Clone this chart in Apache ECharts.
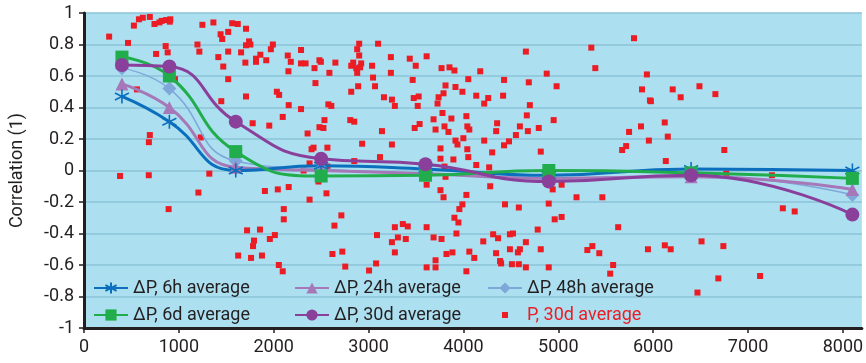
<!DOCTYPE html>
<html>
<head>
<meta charset="utf-8">
<script src="https://cdn.jsdelivr.net/npm/echarts@6/dist/echarts.min.js"></script>
<style>
  html, body { margin: 0; padding: 0; background: #fff; }
  #chart { width: 866px; height: 363px; }
</style>
</head>
<body>
<div id="chart"></div>
<script>
// distances where the averages were computed
var distances = [400, 900, 1600, 2500, 3600, 4900, 6400, 8100];

var dp6h  = [0.47, 0.31, 0.0, 0.03, 0.01, -0.03, 0.01, 0.0];
var dp24h = [0.55, 0.40, 0.02, 0.0, -0.02, -0.05, -0.04, -0.12];
var dp48h = [0.65, 0.52, 0.06, 0.01, -0.02, -0.05, -0.03, -0.155];
var dp6d  = [0.72, 0.60, 0.12, -0.035, -0.03, 0.0, -0.015, -0.05];
var dp30d = [0.67, 0.66, 0.31, 0.075, 0.04, -0.07, -0.03, -0.28];

// P, 30d average scatter
var p30dX = [
  265, 526, 579, 620, 694, 743, 795, 819, 865, 910, 905, 464, 760, 861, 882, 558, 959, 694, 684, 380,
  683, 1321, 1231, 1248, 1364, 1562, 1621, 1708, 1440, 1520, 1457, 1196, 1216, 1416, 1520, 1468, 1520, 1447, 1656, 1701,
  1708, 1740, 1754, 1813, 1859, 1813, 1921, 1708, 1778, 1953, 1991, 1970, 2033, 2057, 2095, 2158, 2155, 2148, 2180, 2288,
  2288, 2288, 2336, 2482, 2497, 2430, 2650, 2587, 2440, 2576, 2607, 2535, 2482, 2524, 2357, 2420, 2399, 2566, 2378, 2315,
  2566, 2901, 3100, 2880, 2901, 2838, 2817, 2922, 2911, 2870, 2880, 3037, 3047, 2890, 2817, 3068, 2807, 2849, 2932, 2849,
  3120, 3141, 3162, 3246, 3277, 3235, 3235, 3246, 3434, 3497, 3612, 3465, 3476, 3528, 3518, 3486, 3538, 3769, 3853, 3905,
  3811, 3738, 3790, 3727, 3916, 3989, 4051, 3779, 3685, 3873, 3706, 3800, 3842, 4031, 4041, 4062, 3999, 3916, 3937, 3758,
  4041, 3758, 3894, 4051, 3800, 4135, 4271, 3811, 4135, 4261, 4219, 4177, 4355, 4345, 4219, 4303, 4428, 4480, 4553, 4595,
  4679, 4668, 4700, 4689, 4428, 4418, 4658, 4794, 4815, 4878, 4982, 4951, 5348, 5798, 5390, 5934, 5882, 6206, 6488, 6656,
  6290, 5966, 5976, 6122, 5872, 5746, 6154, 5955, 5715, 5673, 6750, 6133, 6771, 7252, 1206, 892, 1907, 2043, 2158, 2106,
  2106, 1719, 1855, 1792, 1782, 1959, 2012, 1625, 1761, 1876, 2054, 2095, 2378, 2556, 2472, 2713, 2640, 2619, 2723, 2754,
  3005, 3079, 3089, 3246, 3309, 3277, 3361, 3413, 3392, 3277, 3612, 3758, 3790, 3612, 3685, 3769, 3706, 3612, 3706, 3821,
  3884, 3926, 3905, 3947, 3957, 3989, 4031, 4062, 4114, 4031, 4282, 4209, 4313, 4365, 4344, 4386, 4397, 4438, 4490, 4522,
  4490, 4595, 4574, 4511, 4584, 4658, 4584, 4658, 4783, 4815, 4899, 4899, 4941, 5035, 4962, 5035, 5192, 5464, 5631, 5306,
  5359, 5432, 5578, 5547, 5945, 6123, 6185, 6510, 6740, 6687, 7127, 6467, 7367, 7492
];
var p30dY = [
  0.85, 0.92, 0.96, 0.97, 0.975, 0.93, 0.94, 0.95, 0.955, 0.96, 0.945, 0.81, 0.74, 0.79, 0.75, 0.515, 0.58, 0.225, 0.18, -0.035,
  -0.03, -0.02, 0.21, 0.925, 0.94, 0.935, 0.93, 0.90, 0.865, 0.88, 0.835, 0.80, 0.755, 0.72, 0.755, 0.66, 0.58, 0.44, 0.75, 0.685,
  0.795, 0.82, 0.80, 0.71, 0.735, 0.69, 0.70, 0.47, 0.30, 0.285, 0.80, 0.77, 0.50, 0.48, 0.34, 0.415, 0.63, 0.73, 0.69, 0.765,
  0.68, 0.39, 0.68, 0.70, 0.69, 0.65, 0.685, 0.62, 0.555, 0.42, 0.41, 0.32, 0.275, 0.27, 0.235, 0.145, 0.135, 0.145, 0.045, 0.0,
  0.025, 0.805, 0.805, 0.77, 0.73, 0.685, 0.665, 0.68, 0.655, 0.65, 0.62, 0.665, 0.59, 0.535, 0.50, 0.535, 0.32, 0.31, 0.17, 0.06,
  0.085, 0.25, 0.465, 0.45, 0.41, 0.72, 0.62, 0.165, 0.71, 0.665, 0.725, 0.575, 0.46, 0.47, 0.41, 0.27, 0.295, 0.65, 0.655, 0.635,
  0.54, 0.465, 0.49, 0.425, 0.53, 0.50, 0.58, 0.365, 0.325, 0.33, 0.26, 0.28, 0.245, 0.345, 0.28, 0.26, 0.205, 0.19, 0.165, 0.14,
  0.135, 0.075, 0.07, 0.085, 0.025, 0.035, 0.02, -0.04, 0.475, 0.46, 0.425, 0.63, 0.30, 0.25, 0.19, 0.115, 0.16, 0.185, 0.225, 0.28,
  0.25, 0.35, 0.415, 0.56, 0.575, 0.475, 0.755, 0.27, 0.12, 0.615, 0.535, 0.32, 0.78, 0.84, 0.65, 0.61, 0.515, 0.515, 0.535, 0.485,
  0.465, 0.445, 0.44, 0.305, 0.28, 0.245, 0.215, 0.19, 0.155, 0.13, 0.13, 0.06, -0.02, -0.03, -0.14, -0.245, -0.13, -0.12, -0.105, -0.245,
  -0.31, -0.38, -0.375, -0.445, -0.48, -0.435, -0.41, -0.54, -0.555, -0.54, -0.60, -0.64, -0.185, -0.145, -0.07, -0.285, -0.35, -0.53, -0.515, -0.61,
  -0.635, -0.59, -0.41, -0.455, -0.425, -0.36, -0.34, -0.355, -0.435, -0.52, -0.09, -0.125, -0.17, -0.36, -0.425, -0.435, -0.57, -0.615, -0.615, -0.53,
  -0.52, -0.40, -0.30, -0.33, -0.245, -0.215, -0.155, -0.515, -0.555, -0.64, -0.10, -0.45, -0.405, -0.43, -0.525, -0.575, -0.59, -0.215, -0.405, -0.40,
  -0.50, -0.50, -0.52, -0.595, -0.595, -0.615, -0.235, -0.455, -0.375, -0.50, -0.21, -0.615, -0.12, -0.09, -0.31, -0.295, -0.17, -0.17, -0.36, -0.505,
  -0.48, -0.525, -0.60, -0.655, -0.50, -0.475, -0.50, -0.45, -0.48, -0.685, -0.67, -0.775, -0.24, -0.26
];

var FONT = '"Liberation Sans Narrow", "Roboto", sans-serif';

function pairs(ys) {
  return distances.map(function (d, i) { return [d, ys[i]]; });
}

var starPath = 'path://M10 0 L10 20 M1 5 L19 15 M19 5 L1 15';
// small square in the middle of a legend-sized box
var smallSquare = 'path://M0 0 L0 0 M14 4 L20 4 L20 10 L14 10 Z M34 14 L34 14';

var chart = echarts.init(document.getElementById('chart'));

function lineSeries(name, ys, color, symbol, size, width) {
  return {
    name: name,
    type: 'line',
    data: pairs(ys),
    smooth: 0.5,
    symbol: symbol,
    symbolSize: size,
    showAllSymbol: true,
    lineStyle: { color: color, width: width },
    itemStyle: { color: color, borderColor: color, borderWidth: symbol === starPath ? 1.6 : 0 },
    emphasis: { disabled: true },
    z: 3
  };
}

function legendCol(left, names) {
  return {
    orient: 'vertical',
    left: left,
    top: 274,
    itemGap: 9,
    itemWidth: 34,
    itemHeight: 14,
    textStyle: { fontFamily: FONT, fontSize: 18, color: '#231f20' },
    data: names
  };
}

var option = {
  animation: false,
  backgroundColor: '#ffffff',
  grid: {
    left: 79, right: 3, top: 13, bottom: 35,
    show: true, backgroundColor: '#acdff0', borderWidth: 0
  },
  legend: [
    legendCol(88, ['ΔP, 6h average', 'ΔP, 6d average']),
    legendCol(289, ['ΔP, 24h average', 'ΔP, 30d average']),
    legendCol(482, ['ΔP, 48h average', {
      name: 'P, 30d average', icon: smallSquare,
      itemStyle: { color: '#ec1c24' },
      textStyle: { color: '#ec1c24' }
    }])
  ],
  xAxis: {
    type: 'value',
    min: 0, max: 8200, interval: 1000,
    axisLine: { onZero: false, lineStyle: { color: '#231f20', width: 3 } },
    axisTick: { show: true, length: 5, lineStyle: { color: '#231f20', width: 1.5 } },
    axisLabel: {
      fontFamily: FONT, fontSize: 18, color: '#231f20', margin: 10, showMaxLabel: false,
      formatter: function (v) { return String(v); }
    },
    splitLine: { show: false }
  },
  yAxis: {
    type: 'value',
    min: -1, max: 1, interval: 0.2,
    name: 'Correlation (1)',
    nameLocation: 'middle',
    nameGap: 58,
    nameTextStyle: { fontFamily: FONT, fontSize: 18, color: '#231f20' },
    axisLine: { show: true, onZero: false, lineStyle: { color: '#231f20', width: 3 } },
    axisTick: { show: true, length: 5, lineStyle: { color: '#231f20', width: 1.5 } },
    axisLabel: {
      fontFamily: FONT, fontSize: 18, color: '#231f20', margin: 10,
      formatter: function (v) { return String(Math.round(v * 10) / 10); }
    },
    splitLine: { lineStyle: { color: '#8cc3d7', width: 1.5 } }
  },
  series: [
    {
      name: 'P, 30d average',
      type: 'scatter',
      data: p30dX.map(function (x, i) { return [x, p30dY[i]]; }),
      symbol: 'rect',
      symbolSize: 6,
      itemStyle: { color: '#ec1c24', opacity: 1 },
      emphasis: { disabled: true },
      z: 2
    },
    lineSeries('ΔP, 48h average', dp48h, '#7fa7d9', 'diamond', 14, 1.5),
    lineSeries('ΔP, 24h average', dp24h, '#a678b8', 'triangle', 13, 3),
    lineSeries('ΔP, 6h average', dp6h, '#0b6fbd', starPath, 14, 3),
    lineSeries('ΔP, 6d average', dp6d, '#22ad4c', 'rect', 13, 3),
    lineSeries('ΔP, 30d average', dp30d, '#8a3f9b', 'circle', 14, 3)
  ]
};

chart.setOption(option);
</script>
</body>
</html>
